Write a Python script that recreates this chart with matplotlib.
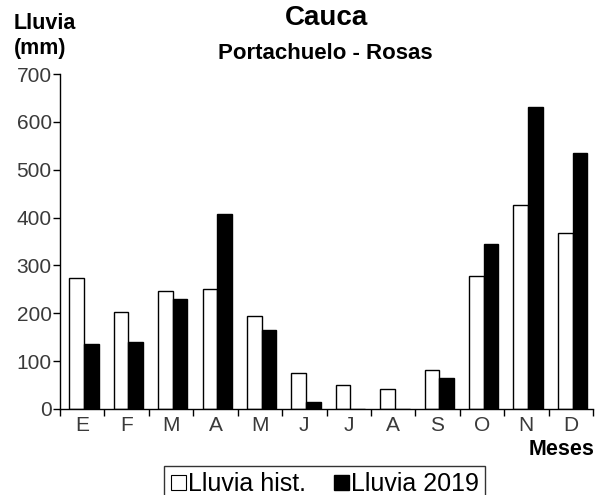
import numpy as np
import matplotlib
matplotlib.use('Agg')
from matplotlib import pyplot as plt
from matplotlib.patches import Patch

# Monthly rainfall (mm)
meses = ['E', 'F', 'M', 'A', 'M', 'J', 'J', 'A', 'S', 'O', 'N', 'D']
lluvia_hist = [273, 203, 247, 250, 194, 76, 50, 41, 82, 278, 426, 367]
lluvia_2019 = [136, 141, 230, 408, 165, 15, 0, 0, 65, 344, 632, 535]
yticks = [0, 100, 200, 300, 400, 500, 600, 700]

plt.rcParams['font.family'] = ['Liberation Sans', 'DejaVu Sans']

fig = plt.figure(figsize=(6.05, 4.95), dpi=100)
ax = fig.add_axes([60 / 605, 86 / 495, 533 / 605, 335 / 495])

x = np.arange(len(meses))
w = 0.33
ax.bar(x - w / 2 + 0.04, lluvia_hist, width=w, color='white', edgecolor='black', linewidth=1)
ax.bar(x + w / 2 + 0.04, lluvia_2019, width=w, color='black', edgecolor='black', linewidth=1)

ax.set_xlim(-0.5, len(meses) - 0.5)
ax.set_ylim(0, 700)

# y axis
ax.set_yticks(yticks)
ax.tick_params(axis='y', direction='out', length=5, width=1, labelsize=15,
               labelcolor='#3a3a3a', pad=1)

# x axis: labels at centres, ticks at the category borders
ax.set_xticks(x)
ax.set_xticklabels(meses)
ax.tick_params(axis='x', which='major', length=0, labelsize=15, labelcolor='#3a3a3a', pad=5)
ax.set_xticks(np.arange(-0.5, len(meses)), minor=True)
ax.tick_params(axis='x', which='minor', direction='out', length=5, width=1)

for s in ['top', 'right']:
    ax.spines[s].set_visible(False)
for s in ['left', 'bottom']:
    ax.spines[s].set_linewidth(1)

# titles and axis labels
fig.text(0.539, 0.964, 'Cauca', ha='center', va='center', fontsize=20, fontweight='bold')
fig.text(0.537, 0.892, 'Portachuelo - Rosas', ha='center', va='center', fontsize=16, fontweight='bold')
fig.text(14 / 605, 0.953, 'Lluvia', ha='left', va='center', fontsize=15.5, fontweight='bold')
fig.text(14 / 605, 0.902, '(mm)', ha='left', va='center', fontsize=15.5, fontweight='bold')
fig.text(594 / 605, 0.091, 'Meses', ha='right', va='center', fontsize=15.5, fontweight='bold')

handles = [Patch(facecolor='white', edgecolor='black', linewidth=0.8),
           Patch(facecolor='black', edgecolor='black')]
leg = fig.legend(handles, ['Lluvia hist.', 'Lluvia 2019'], ncol=2, loc='upper center',
                 bbox_to_anchor=(0.537, 1 - 466 / 495), fontsize=18, frameon=True, fancybox=False,
                 edgecolor='black', handlelength=0.6, handleheight=0.6, handletextpad=0.1,
                 columnspacing=1.1, borderpad=0.25, borderaxespad=0)
leg.get_frame().set_linewidth(1)

fig.savefig('out.png', dpi=100)
